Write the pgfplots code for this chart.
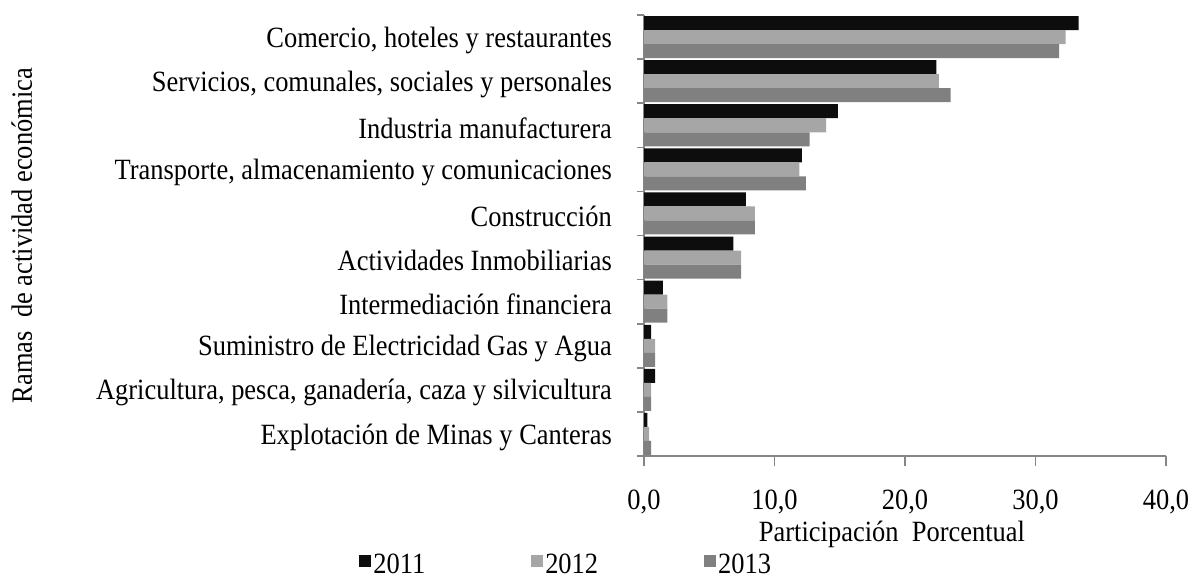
\documentclass[border=0pt]{standalone}
\usepackage{fontspec}
\setmainfont{Liberation Serif}[FakeStretch=0.9]
\usepackage{pgfplots}
\pgfplotsset{compat=1.18}
\definecolor{c11}{HTML}{0D0D0D}
\definecolor{c12}{HTML}{A6A6A6}
\definecolor{c13}{HTML}{808080}
\definecolor{axgray}{HTML}{868686}
\begin{document}
\fontsize{14.7}{17}\selectfont
\begin{tikzpicture}
\begin{axis}[
  scale only axis,
  width=261pt, height=220.5pt,
  xbar, bar width=7pt,
  legend image code/.code={\fill[#1] (0pt,-0.7pt) rectangle (6pt,5.3pt);},
  y dir=reverse,
  xmin=0, xmax=40, ymin=-0.5, ymax=9.5,
  axis x line*=bottom, axis y line*=left,
  axis line style={draw=axgray, line width=0.8pt},
  tick style={draw=axgray, line width=0.8pt},
  tick align=outside,
  xtick={0,10,20,30,40},
  xticklabels={{0,0},{10,0},{20,0},{30,0},{40,0}},
  major tick length=5pt,
  xticklabel style={yshift=-7pt, inner xsep=0pt},
  ytick={0,...,9},
  major y tick style={draw=none},
  minor ytick={-0.5,0.5,...,9.5},
  minor tick length=3.5pt,
  yticklabels={{Comercio, hoteles y restaurantes},
    {Servicios, comunales, sociales y personales},
    Industria manufacturera,
    {Transporte, almacenamiento y comunicaciones},
    Construcción,
    Actividades Inmobiliarias,
    Intermediación financiera,
    Suministro de Electricidad Gas y Agua,
    {Agricultura, pesca, ganadería, caza y silvicultura},
    Explotación de Minas y Canteras},
  yticklabel style={anchor=east, xshift=-6pt, yshift=-1.5pt},
  xlabel={Participación\ \ Porcentual},
  xlabel style={at={(axis description cs:0.475,-0.178)}, anchor=center},
  ylabel={Ramas\ \ de actividad económica},
  ylabel style={at={(axis description cs:-1.192,0.5)}, anchor=center},
  legend columns=3,
  legend style={draw=none, at={(rel axis cs:-0.149,-0.249)}, anchor=center,
    /tikz/every even column/.append style={column sep=52pt},
    nodes={inner xsep=1pt}},
  clip=false,
]
\addplot[fill=c11, draw=none, bar shift=7pt] coordinates {
(33.3,0) (22.4,1) (14.85,2) (12.1,3) (7.8,4) (6.85,5) (1.45,6) (0.55,7) (0.85,8) (0.25,9)};
\addplot[fill=c12, draw=none, bar shift=0pt] coordinates {
(32.3,0) (22.6,1) (13.95,2) (11.9,3) (8.5,4) (7.45,5) (1.8,6) (0.85,7) (0.55,8) (0.4,9)};
\addplot[fill=c13, draw=none, bar shift=-7pt] coordinates {
(31.8,0) (23.5,1) (12.7,2) (12.4,3) (8.5,4) (7.45,5) (1.8,6) (0.85,7) (0.55,8) (0.55,9)};
\legend{2011,2012,2013}
\path (rel axis cs:-1.2337,-0.2789) rectangle (rel axis cs:1.0536,1.034);
\end{axis}
\end{tikzpicture}
\end{document}
